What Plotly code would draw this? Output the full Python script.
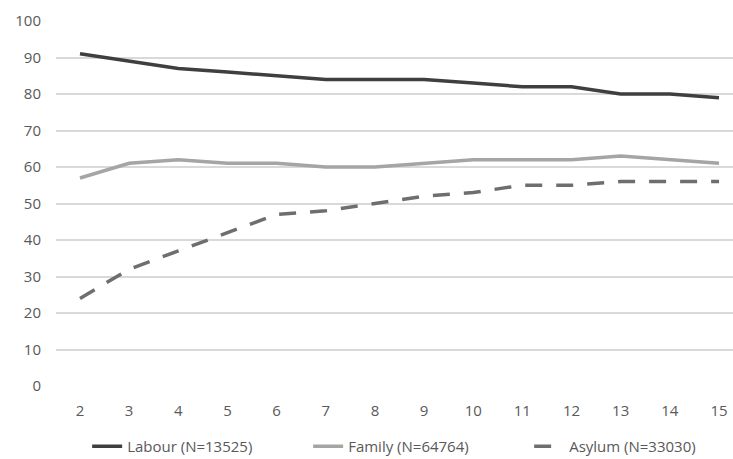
import plotly.graph_objects as go

years = [2, 3, 4, 5, 6, 7, 8, 9, 10, 11, 12, 13, 14, 15]
labour = [91, 89, 87, 86, 85, 84, 84, 84, 83, 82, 82, 80, 80, 79]
family = [57, 61, 62, 61, 61, 60, 60, 61, 62, 62, 62, 63, 62, 61]
asylum = [24, 32, 37, 42, 47, 48, 50, 52, 53, 55, 55, 56, 56, 56]
yticks = [0, 10, 20, 30, 40, 50, 60, 70, 80, 90, 100]

fig = go.Figure()
fig.add_trace(go.Scatter(x=years, y=labour, mode="lines", name="Labour (N=13525)",
                         line=dict(color="#3f3f3f", width=3.5)))
fig.add_trace(go.Scatter(x=years, y=family, mode="lines", name="Family (N=64764)",
                         line=dict(color="#a5a5a5", width=3.5)))
fig.add_trace(go.Scatter(x=years, y=asylum, mode="lines", name="Asylum (N=33030)",
                         line=dict(color="#6e6e6e", width=3.5, dash="17px,14px")))

fig.update_layout(
    width=733, height=459,
    margin=dict(l=56, r=0, t=21, b=73, autoexpand=False),
    plot_bgcolor="white", paper_bgcolor="white",
    font=dict(family="Open Sans", size=15, color="#595959"),
    showlegend=True,
    legend=dict(orientation="h", x=0.046, xanchor="left", y=-0.166, yanchor="middle",
                font=dict(size=15, color="#595959"), entrywidth=176,
                traceorder="normal", borderwidth=0),
    xaxis=dict(range=[1.512, 15.285], tickmode="array", tickvals=years,
               ticktext=[str(v) for v in years], showgrid=False, zeroline=False,
               showline=False, ticks="", ticklabelstandoff=14),
    yaxis=dict(range=[0, 100], tickmode="array", tickvals=yticks,
               showgrid=True, gridcolor="#d9d9d9", gridwidth=1.5, zeroline=False,
               showline=False, ticks="", ticklabelstandoff=14),
)

fig.write_html("out.html", config={"displayModeBar": False},
               post_script="document.body.style.margin='0';")
